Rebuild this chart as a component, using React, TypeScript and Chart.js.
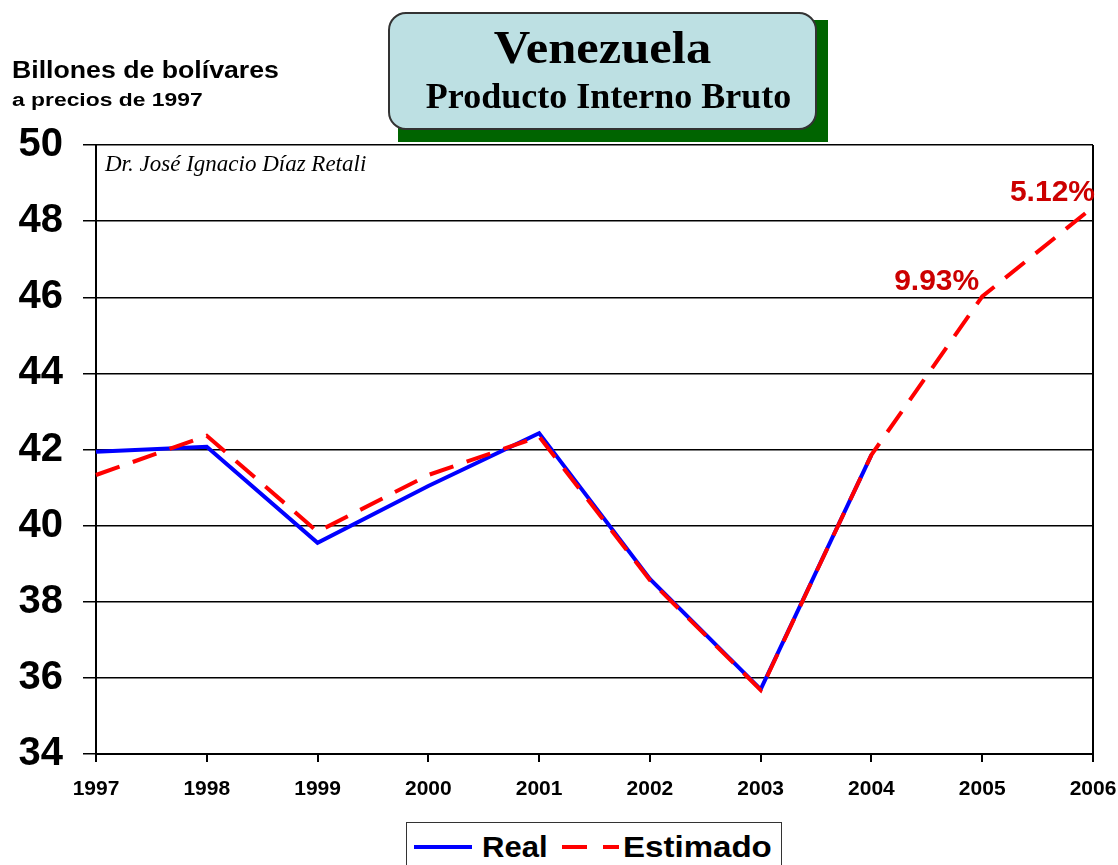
import React, { useEffect, useRef } from "react";
import { Chart, registerables } from "chart.js";

Chart.register(...registerables);

// Años del eje horizontal
const years = ["1997", "1998", "1999", "2000", "2001", "2002", "2003", "2004", "2005", "2006"];

// PIB real (billones de bolívares a precios de 1997)
const realValues: (number | null)[] = [41.94, 42.07, 39.55, 41.04, 42.43, 38.6, 35.7, 41.86, null, null];

// PIB estimado
const estimadoValues: (number | null)[] = [41.33, 42.36, 39.84, 41.33, 42.34, 38.57, 35.68, 41.86, 46.02, 48.37];

// Tasas de crecimiento rotuladas sobre la serie estimada
const growthLabels: (string | null)[] = [null, null, null, null, null, null, null, null, "9.93%", "5.12%"];

// Escala vertical
const yMin = 34;
const yMax = 50;
const yStep = 2;

const SANS = "'Liberation Sans', Arial, sans-serif";
const SERIF = "'Liberation Serif', 'Times New Roman', serif";

const growthLabelPlugin = {
  id: "growthLabels",
  afterDatasetsDraw(chart: any) {
    const meta = chart.getDatasetMeta(1);
    const ctx = chart.ctx;
    ctx.save();
    ctx.font = `bold 30px ${SANS}`;
    ctx.fillStyle = "#cc0000";
    ctx.textAlign = "right";
    ctx.textBaseline = "alphabetic";
    growthLabels.forEach((label, i) => {
      if (!label) return;
      const pt = meta.data[i];
      const last = i === growthLabels.length - 1;
      ctx.fillText(label, pt.x + (last ? 2 : -3), pt.y - 6);
    });
    ctx.restore();
  },
};

export default function App() {
  const canvasRef = useRef<HTMLCanvasElement | null>(null);

  useEffect(() => {
    if (!canvasRef.current) return;
    const chart = new Chart(canvasRef.current, {
      type: "line",
      data: {
        labels: years,
        datasets: [
          {
            label: "Real",
            data: realValues,
            borderColor: "#0000ff",
            backgroundColor: "#0000ff",
            borderWidth: 4,
            pointRadius: 0,
            tension: 0,
            spanGaps: false,
            order: 2,
          },
          {
            label: "Estimado",
            data: estimadoValues,
            borderColor: "#ff0000",
            backgroundColor: "#ff0000",
            borderWidth: 4,
            borderDash: [25, 14],
            pointRadius: 0,
            tension: 0,
            order: 1,
          },
        ],
      },
      options: {
        responsive: false,
        animation: false,
        layout: { padding: { top: 145, right: 25, left: 0, bottom: 0 } },
        plugins: {
          legend: { display: false },
          title: { display: false },
          tooltip: { enabled: false },
        },
        scales: {
          x: {
            offset: false,
            grid: {
              color: (c: any) => (c.index === years.length - 1 ? "#000" : "rgba(0,0,0,0)"),
              lineWidth: 2,
              tickColor: "#000",
              tickLength: 8,
              drawOnChartArea: true,
            },
            border: { display: true, color: "#000", width: 2 },
            ticks: {
              color: "#000",
              font: { family: SANS, size: 21, weight: "bold" },
              padding: 15,
              maxRotation: 0,
              autoSkip: false,
            },
            afterFit(scale: any) {
              scale.height = 111;
              scale.paddingLeft = 0;
              scale.paddingRight = 0;
            },
          },
          y: {
            min: yMin,
            max: yMax,
            ticks: {
              stepSize: yStep,
              color: "#000",
              font: { family: SANS, size: 40, weight: "bold" },
              padding: 20,
            },
            grid: {
              color: "#000",
              lineWidth: 1.5,
              tickColor: "#000",
              tickLength: 13,
            },
            border: { display: true, color: "#000", width: 2 },
            afterFit(scale: any) {
              scale.width = 96;
              scale.paddingTop = 0;
              scale.paddingBottom = 0;
            },
          },
        },
      },
      plugins: [growthLabelPlugin],
    });
    return () => chart.destroy();
  }, []);

  return (
    <div
      style={{
        position: "fixed",
        left: 0,
        top: 0,
        width: 1118,
        height: 865,
        overflow: "hidden",
        background: "#fff",
      }}
    >
      <canvas ref={canvasRef} width={1118} height={865} style={{ position: "absolute", left: 0, top: 0 }} />

      {/* Caja del título con sombra verde */}
      <div style={{ position: "absolute", left: 398, top: 20, width: 430, height: 122, background: "#006400" }} />
      <div
        style={{
          position: "absolute",
          left: 388,
          top: 12,
          width: 429,
          height: 118,
          boxSizing: "border-box",
          borderRadius: 18,
          border: "2px solid #333",
          background: "#bde0e3",
        }}
      />
      <div
        style={{
          position: "absolute",
          left: 388,
          top: 24.5,
          width: 429,
          textAlign: "center",
          fontFamily: SERIF,
          fontWeight: "bold",
          fontSize: 46,
          lineHeight: "46px",
          color: "#000",
          transform: "scaleX(1.1)",
        }}
      >
        Venezuela
      </div>
      <div
        style={{
          position: "absolute",
          left: 388,
          top: 78,
          width: 429,
          textAlign: "center",
          fontFamily: SERIF,
          fontWeight: "bold",
          fontSize: 36,
          lineHeight: "36px",
          color: "#000",
          whiteSpace: "nowrap",
          transform: "translateX(6px)",
        }}
      >
        Producto Interno Bruto
      </div>

      {/* Unidades del eje vertical */}
      <div
        style={{
          position: "absolute",
          left: 12,
          top: 59,
          fontFamily: SANS,
          fontWeight: "bold",
          fontSize: 23,
          lineHeight: "23px",
          color: "#000",
          whiteSpace: "nowrap",
          transform: "scaleX(1.16)",
          transformOrigin: "left center",
        }}
      >
        Billones de bolívares
      </div>
      <div
        style={{
          position: "absolute",
          left: 12,
          top: 91,
          fontFamily: SANS,
          fontWeight: "bold",
          fontSize: 18,
          lineHeight: "18px",
          color: "#000",
          whiteSpace: "nowrap",
          transform: "scaleX(1.27)",
          transformOrigin: "left center",
        }}
      >
        a precios de 1997
      </div>

      {/* Autor */}
      <div
        style={{
          position: "absolute",
          left: 105,
          top: 152,
          fontFamily: SERIF,
          fontStyle: "italic",
          fontSize: 23,
          lineHeight: "23px",
          color: "#000",
          whiteSpace: "nowrap",
        }}
      >
        Dr. José Ignacio Díaz Retali
      </div>

      {/* Leyenda */}
      <div
        style={{
          position: "absolute",
          left: 406,
          top: 822,
          width: 376,
          height: 60,
          boxSizing: "border-box",
          border: "1.5px solid #333",
          background: "#fff",
        }}
      />
      <div style={{ position: "absolute", left: 414, top: 845, width: 58, height: 4, background: "#0000ff" }} />
      <div
        style={{
          position: "absolute",
          left: 482,
          top: 832.5,
          fontFamily: SANS,
          fontWeight: "bold",
          fontSize: 29,
          lineHeight: "29px",
          color: "#000",
          whiteSpace: "nowrap",
          transform: "scaleX(1.07)",
          transformOrigin: "left center",
        }}
      >
        Real
      </div>
      <div style={{ position: "absolute", left: 562, top: 845, width: 25, height: 4, background: "#ff0000" }} />
      <div style={{ position: "absolute", left: 603, top: 845, width: 16, height: 4, background: "#ff0000" }} />
      <div
        style={{
          position: "absolute",
          left: 623,
          top: 832.5,
          fontFamily: SANS,
          fontWeight: "bold",
          fontSize: 29,
          lineHeight: "29px",
          color: "#000",
          whiteSpace: "nowrap",
          transform: "scaleX(1.14)",
          transformOrigin: "left center",
        }}
      >
        Estimado
      </div>
    </div>
  );
}
